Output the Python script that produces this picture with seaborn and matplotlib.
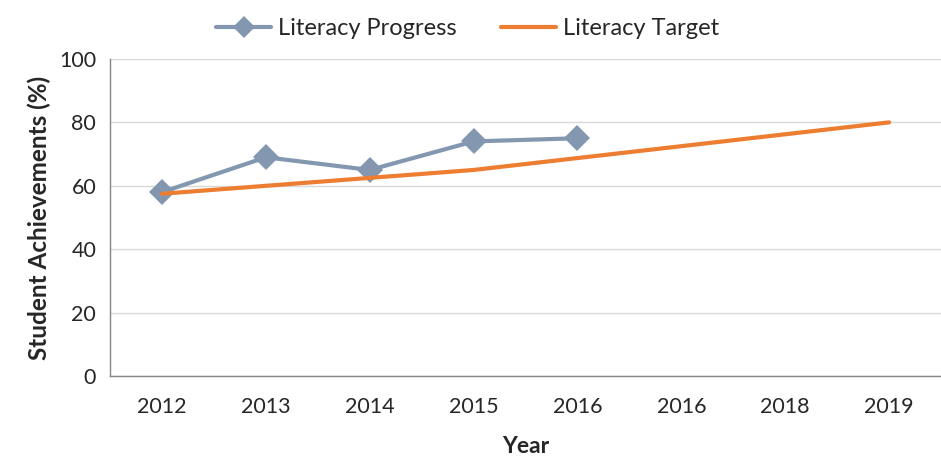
import matplotlib
matplotlib.use("Agg")
import matplotlib.pyplot as plt
import seaborn as sns
import numpy as np
import pandas as pd

years = ['2012', '2013', '2014', '2015', '2016', '2016', '2018', '2019']
progress = [58, 69, 65, 74, 75]
target = [57.5, 60, 62.5, 65, 68.75, 72.5, 76.25, 80]

sns.set_style('white')
plt.rcParams['font.family'] = ['Lato', 'DejaVu Sans']

prog_df = pd.DataFrame({'pos': np.arange(len(progress)), 'value': progress})
targ_df = pd.DataFrame({'pos': np.arange(len(target)), 'value': target})

fig = plt.figure(figsize=(9.41, 4.57), dpi=100)
ax = fig.add_axes([0.117, 0.177, 0.883, 0.694])

sns.lineplot(data=prog_df, x='pos', y='value', ax=ax, color='#8497B0',
             linewidth=3, marker='D', markersize=13, markeredgewidth=0,
             label='Literacy Progress', zorder=3)
sns.lineplot(data=targ_df, x='pos', y='value', ax=ax, color='#ED7D31',
             linewidth=3, label='Literacy Target', zorder=4)

ax.set_ylim(0, 100)
ax.set_yticks(range(0, 101, 20))
ax.set_xlim(-0.5, 7.44)

# category labels at the centres, tick marks at the boundaries
ax.set_xticks(np.arange(len(years)))
ax.set_xticklabels(years)
ax.set_xticks(np.arange(-0.5, len(years), 1), minor=True)
ax.tick_params(axis='x', which='major', length=0, pad=15, labelsize=15.5)
ax.tick_params(axis='x', which='minor', length=7, color='#868686', direction='out')
ax.tick_params(axis='y', length=6, color='#868686', direction='out', labelsize=15.5, pad=4)

ax.yaxis.grid(True, color='#D9D9D9', linewidth=1)
ax.set_axisbelow(True)
for side in ['top', 'right']:
    ax.spines[side].set_visible(False)
for side in ['left', 'bottom']:
    ax.spines[side].set_color('#868686')
    ax.spines[side].set_linewidth(1)

ax.set_xlabel('Year', fontsize=16.5, fontweight='bold', labelpad=14)
ax.set_ylabel('Student Achievements (%)', fontsize=17.5, fontweight='bold', labelpad=6)

ax.get_legend().remove()
handles, labels = ax.get_legend_handles_labels()
fig.legend(handles, labels, loc='center', bbox_to_anchor=(0.497, 0.937), ncol=2,
           frameon=False, fontsize=17, handlelength=2.3, columnspacing=1.9,
           handletextpad=0.3, markerscale=0.9)

fig.savefig('out.png', dpi=100)
